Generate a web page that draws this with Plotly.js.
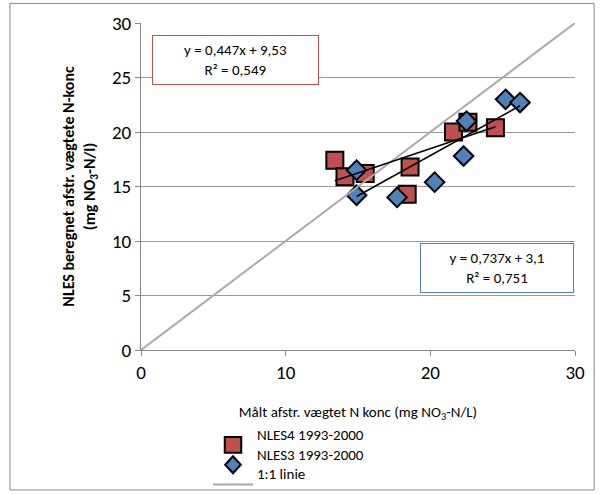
<!DOCTYPE html>
<html><head><script src="https://cdn.plot.ly/plotly-3.0.1.min.js"></script></head>
<body style="margin:0">
<div id="chart" style="width:602px;height:494px"></div>
<script>
var nles4X = [13.4, 14.1, 15.5, 18.6, 18.4, 21.6, 22.6, 24.5];
var nles4Y = [17.4, 15.9, 16.2, 16.8, 14.3, 20.0, 20.9, 20.4];
var nles3X = [14.9, 14.9, 17.7, 20.3, 22.3, 22.5, 25.2, 26.2];
var nles3Y = [16.5, 14.2, 14.0, 15.4, 17.8, 21.0, 23.0, 22.7];
var fit4 = [0.447, 9.53];
var fit3 = [0.737, 3.1];
var legendNames = ['NLES4 1993-2000', 'NLES3 1993-2000', '1:1 linie'];

function trend(xs, f) {
    var a = Math.min.apply(null, xs), b = Math.max.apply(null, xs);
    return {x: [a, b], y: [f[0] * a + f[1], f[0] * b + f[1]]};
}
var t4 = trend(nles4X, fit4), t3 = trend(nles3X, fit3);

var data = [
    {x: nles4X, y: nles4Y, mode: 'markers', type: 'scatter', name: legendNames[0],
     marker: {symbol: 'square', size: 17, color: '#c0504d', line: {color: '#000', width: 2}}},
    {x: nles3X, y: nles3Y, mode: 'markers', type: 'scatter', name: legendNames[1],
     marker: {symbol: 'diamond', size: 15, color: '#4f81bd', line: {color: '#000', width: 2}}},
    {x: [0, 30], y: [0, 30], mode: 'lines', name: legendNames[2], line: {color: '#aaaaaa', width: 2}},
    {x: t4.x, y: t4.y, mode: 'lines', line: {color: '#000', width: 1.5}},
    {x: t3.x, y: t3.y, mode: 'lines', line: {color: '#000', width: 1.5}}
];

// legend drawn by hand below the plot (paper coords) so the plot area keeps its size
var ly = [-0.29, -0.351, -0.411];
var legendShapes = [
    {type: 'rect', xref: 'paper', yref: 'paper', x0: 0.193, x1: 0.231, y0: ly[0] - 0.024, y1: ly[0] + 0.024,
     fillcolor: '#c0504d', line: {color: '#000', width: 2}},
    {type: 'path', xref: 'paper', yref: 'paper',
     path: 'M 0.212 ' + (ly[1] + 0.026) + ' L 0.230 ' + ly[1] + ' L 0.212 ' + (ly[1] - 0.026) + ' L 0.194 ' + ly[1] + ' Z',
     fillcolor: '#4f81bd', line: {color: '#000', width: 2}},
    {type: 'line', xref: 'paper', yref: 'paper', x0: 0.166, x1: 0.258, y0: ly[2], y1: ly[2],
     line: {color: '#aaaaaa', width: 2}}
];
var legendText = legendNames.map(function (n, i) {
    return {xref: 'paper', yref: 'paper', x: 0.262, y: ly[i], yshift: -1, xanchor: 'left', showarrow: false,
            text: n, font: {size: 15}};
});

var layout = {
    width: 602, height: 494,
    margin: {l: 141, r: 27, t: 23, b: 144},
    font: {family: 'Carlito, "Open Sans", sans-serif', color: '#000'},
    plot_bgcolor: '#fff', paper_bgcolor: '#fff',
    showlegend: false,
    xaxis: {range: [0, 30], dtick: 10, showgrid: false, zeroline: false, showline: true, linecolor: '#888',
            ticks: 'outside', ticklen: 5, tickcolor: '#888', tickfont: {size: 19},
            title: {text: 'Målt afstr. vægtet N konc (mg NO<sub>3</sub>-N/L)', font: {size: 15}, standoff: 23}},
    yaxis: {range: [0, 30], dtick: 5, showgrid: true, gridcolor: '#999', zeroline: false, showline: true, linecolor: '#888',
            ticks: 'outside', ticklen: 5, tickcolor: '#888', tickfont: {size: 19},
            title: {text: '<b>NLES beregnet afstr. vægtete N-konc<br>(mg NO<sub>3</sub>-N/l)</b>', font: {size: 16}, standoff: 12}},
    shapes: [{type: 'rect', xref: 'paper', yref: 'paper', x0: -0.302, x1: 1.044, y0: -0.428, y1: 1.06,
              line: {color: '#888', width: 1}}].concat(legendShapes),
    annotations: [
        {xref: 'x', yref: 'y', x: 6.5, y: 26.6, showarrow: false, align: 'center',
         text: 'y = 0,447x + 9,53<br>R² = 0,549', font: {size: 15},
         bordercolor: '#c0504d', borderwidth: 1, borderpad: 5, bgcolor: '#fff', width: 155},
        {xref: 'x', yref: 'y', x: 24.6, y: 7.5, showarrow: false, align: 'center',
         text: 'y = 0,737x + 3,1<br>R² = 0,751', font: {size: 15},
         bordercolor: '#4f81bd', borderwidth: 1, borderpad: 5, bgcolor: '#fff', width: 142}
    ].concat(legendText)
};
Plotly.newPlot('chart', data, layout, {displayModeBar: false});
</script>
</body></html>
